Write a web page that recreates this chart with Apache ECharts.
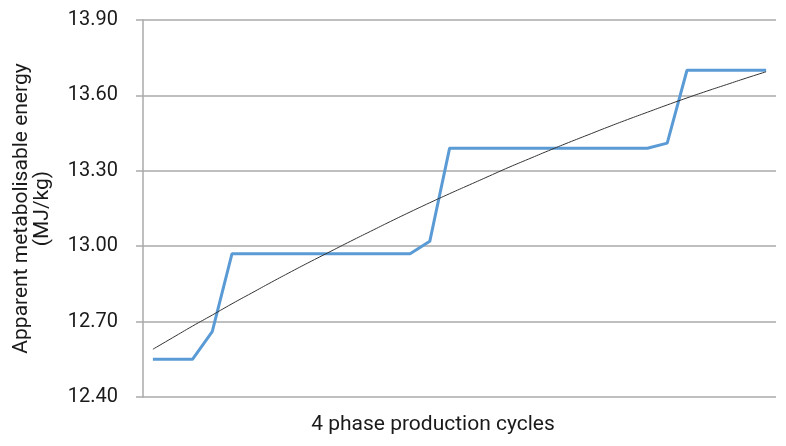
<!DOCTYPE html>
<html lang="en">
<head>
    <meta charset="UTF-8">
    <title>Apparent metabolisable energy</title>
    <style type="text/css">
        html, body { margin: 0; padding: 0; background: #fff; }
        #main { width: 786px; height: 446px; }
    </style>
</head>
<body>
<div id="main"></div>
<script type="text/javascript" src="https://cdn.jsdelivr.net/npm/echarts@6/dist/echarts.min.js"></script>
<script type="text/javascript">
    // 32 steps across the four production phases
    var cycles = [];
    for (var i = 1; i <= 32; i++) { cycles.push(String(i)); }

    // stepped AME values (blue)
    var ameValues = [12.55, 12.55, 12.55, 12.66,
        12.97, 12.97, 12.97, 12.97, 12.97, 12.97, 12.97, 12.97, 12.97, 12.97,
        13.02,
        13.39, 13.39, 13.39, 13.39, 13.39, 13.39, 13.39, 13.39, 13.39, 13.39, 13.39,
        13.41,
        13.70, 13.70, 13.70, 13.70, 13.70];

    // trend line (thin black)
    var trendValues = [12.590, 12.636, 12.682, 12.726, 12.771, 12.814, 12.857, 12.899,
        12.940, 12.980, 13.020, 13.059, 13.098, 13.136, 13.173, 13.209,
        13.244, 13.279, 13.314, 13.347, 13.380, 13.412, 13.443, 13.474,
        13.504, 13.533, 13.562, 13.590, 13.617, 13.643, 13.669, 13.694];

    var yMin = 12.40, yMax = 13.90, yStep = 0.30;

    var chart = echarts.init(document.getElementById('main'));
    chart.setOption({
        animation: false,
        grid: { left: 143, right: 10, top: 20, bottom: 49 },
        textStyle: { fontFamily: 'Roboto' },
        xAxis: {
            type: 'category',
            data: cycles,
            boundaryGap: true,
            name: '4 phase production cycles',
            nameLocation: 'middle',
            nameGap: 17,
            nameTextStyle: { fontSize: 21, color: '#1a1a1a', padding: [0, 53, 0, 0] },
            axisLine: { show: false },
            axisTick: { show: false },
            axisLabel: { show: false }
        },
        yAxis: {
            type: 'value',
            min: yMin,
            max: yMax,
            interval: yStep,
            name: 'Apparent metabolisable energy\n(MJ/kg)',
            nameLocation: 'middle',
            nameGap: 90,
            nameTextStyle: { fontSize: 21, color: '#1a1a1a', lineHeight: 21 },
            axisLine: { show: true, lineStyle: { color: '#aaa', width: 1.5 } },
            axisTick: { show: true, length: 7, lineStyle: { color: '#aaa', width: 1.5 } },
            axisLabel: {
                fontSize: 20, color: '#1a1a1a', margin: 25,
                formatter: function (v) { return v.toFixed(2); }
            },
            splitLine: { show: true, lineStyle: { color: '#aaa', width: 1.5 } }
        },
        series: [{
            type: 'line',
            data: ameValues,
            symbol: 'none',
            lineStyle: { color: '#5b9bd5', width: 3 },
            z: 2
        }, {
            type: 'line',
            data: trendValues,
            symbol: 'none',
            smooth: true,
            lineStyle: { color: '#333', width: 1 },
            z: 3
        }]
    });
</script>
</body>
</html>
